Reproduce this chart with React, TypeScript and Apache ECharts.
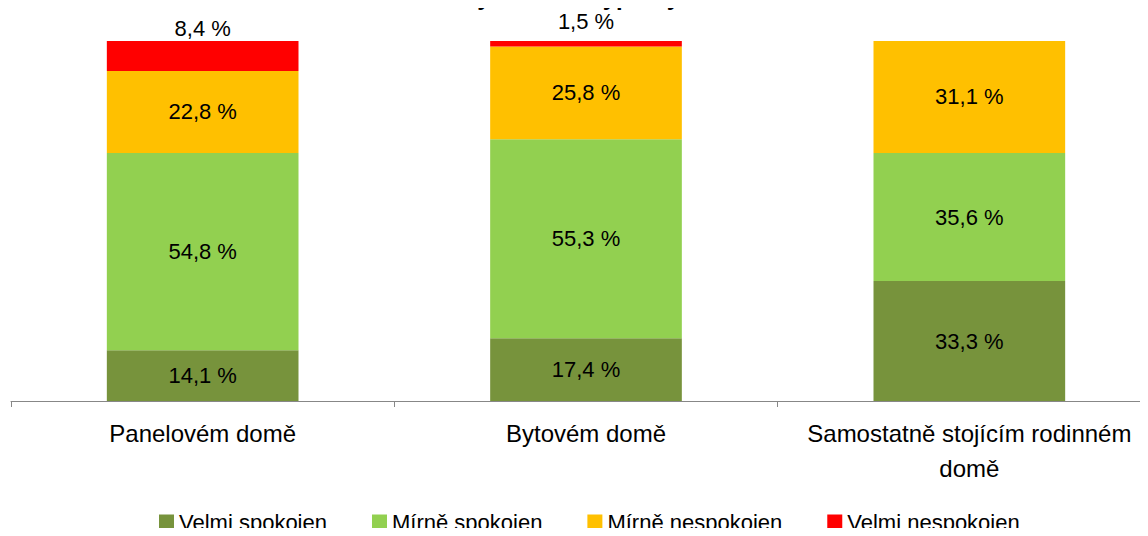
import React, { useEffect, useRef } from "react";
import * as echarts from "echarts";

const categories = ["Panelovém domě", "Bytovém domě", "Samostatně stojícím rodinném\ndomě"];
const velmiSpokojen = [14.1, 17.4, 33.3];
const mirneSpokojen = [54.8, 55.3, 35.6];
const mirneNespokojen = [22.8, 25.8, 31.1];
const velmiNespokojen: (number | null)[] = [8.4, 1.5, null];
const seriesNames = ["Velmi spokojen", "Mírně spokojen", "Mírně nespokojen", "Velmi nespokojen"];
const colors = ["#77933C", "#92D050", "#FFC000", "#FF0000"];
const titleText = "Hodnocení bydlení dle typu bydliště";

const FONT = "'Liberation Sans', Arial, sans-serif";
const topLabelDistance = [2, 9, 2];

export default function App() {
  const ref = useRef<HTMLDivElement>(null);
  useEffect(() => {
    if (!ref.current) return;
    const chart = echarts.init(ref.current, undefined, { renderer: "svg" });
    const fmt = (p: any) => (p.value == null ? "" : p.value.toFixed(1).replace(".", ",") + " %");
    const datasets = [velmiSpokojen, mirneSpokojen, mirneNespokojen, velmiNespokojen];
    chart.setOption({
      animation: false,
      textStyle: { fontFamily: FONT },
      title: {
        text: titleText,
        left: 332,
        top: -16,
        padding: 0,
        textStyle: { fontFamily: FONT, fontSize: 24, fontWeight: "bold", color: "#000" },
      },
      grid: { left: 11, right: 0, top: 41, bottom: 135, containLabel: false },
      legend: {
        top: 511,
        left: 159,
        padding: 0,
        itemWidth: 15,
        itemHeight: 15,
        itemGap: 45,
        icon: "rect",
        textStyle: { fontFamily: FONT, fontSize: 22, color: "#000" },
        data: seriesNames,
      },
      xAxis: {
        type: "category",
        data: categories,
        axisLine: { lineStyle: { color: "#878787", width: 1 } },
        axisTick: { show: true, length: 6, lineStyle: { color: "#878787" } },
        axisLabel: { interval: 0, margin: 15, fontSize: 24, color: "#000", lineHeight: 35, fontFamily: FONT },
      },
      yAxis: { type: "value", min: 0, max: 100, show: false, splitLine: { show: false } },
      series: datasets.map((d, i) => ({
        name: seriesNames[i],
        type: "bar",
        stack: "total",
        barWidth: "50%",
        data: i === 3 ? d.map((v, j) => ({ value: v, label: { distance: topLabelDistance[j] } })) : d,
        itemStyle: { color: colors[i] },
        label: {
          show: true,
          position: i === 3 ? "top" : "inside",
          distance: 4,
          formatter: fmt,
          fontSize: 22,
          color: "#000",
          fontFamily: FONT,
        },
      })),
    });
    return () => chart.dispose();
  }, []);
  return (
    <div style={{ width: 1148, height: 536, margin: -8, overflow: "hidden" }}>
      <div ref={ref} style={{ width: 1161, height: 536 }} />
    </div>
  );
}
